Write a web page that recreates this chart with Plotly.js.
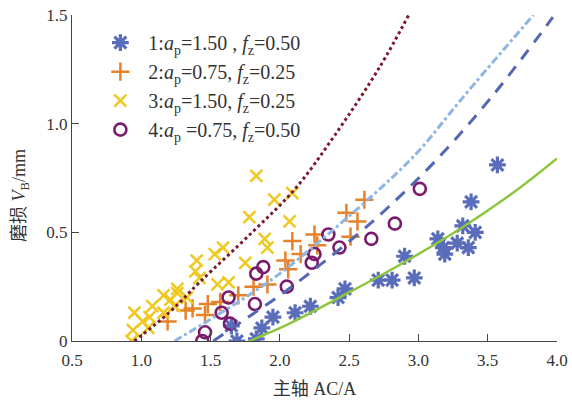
<!DOCTYPE html>
<html>
<head>
<meta charset="utf-8">
<script src="https://cdn.plot.ly/plotly-3.0.1.min.js"></script>
<style>html,body{margin:0;padding:0;background:#fff;}</style>
</head>
<body>
<div id="chart" style="width:572px;height:405px;"></div>
<script>
// ---- data ----
const legendNames = [
  '1:<i>a</i><sub>p</sub>=1.50 , <i>f</i><sub>z</sub>=0.50',
  '2:<i>a</i><sub>p</sub>=0.75, <i>f</i><sub>z</sub>=0.25',
  '3:<i>a</i><sub>p</sub>=1.50, <i>f</i><sub>z</sub>=0.25',
  '4:<i>a</i><sub>p</sub> =0.75, <i>f</i><sub>z</sub>=0.50'
];

const s1X = [1.69,1.65,1.83,1.87,1.95,2.11,2.22,2.42,2.47,2.71,2.81,2.90,2.97,3.14,3.18,3.19,3.28,3.36,3.32,3.41,3.38,3.57];
const s1Y = [0.00,0.07,0.01,0.06,0.11,0.13,0.16,0.20,0.24,0.28,0.28,0.39,0.29,0.47,0.43,0.40,0.45,0.43,0.53,0.50,0.64,0.81];

const s2X = [1.19,1.32,1.37,1.46,1.48,1.57,1.70,1.81,1.91,2.04,2.06,2.09,2.15,2.25,2.27,2.48,2.51,2.56,2.61];
const s2Y = [0.09,0.14,0.15,0.12,0.17,0.18,0.21,0.25,0.26,0.37,0.33,0.46,0.40,0.49,0.44,0.59,0.48,0.55,0.65];

const s3X = [0.93,0.94,1.01,0.95,1.06,1.05,1.08,1.16,1.16,1.21,1.24,1.26,1.33,1.26,1.39,1.40,1.42,1.53,1.59,1.55,1.63,1.75,1.78,1.83,1.89,1.91,1.96,2.09,2.07];
const s3Y = [0.00,0.05,0.09,0.13,0.11,0.06,0.16,0.13,0.21,0.19,0.16,0.22,0.20,0.24,0.32,0.37,0.29,0.40,0.43,0.26,0.27,0.36,0.57,0.76,0.47,0.43,0.65,0.68,0.55];

const s4X = [1.44,1.46,1.58,1.63,1.64,1.82,1.83,1.88,2.05,2.23,2.25,2.35,2.43,2.66,2.83,3.01];
const s4Y = [0.00,0.04,0.13,0.20,0.08,0.17,0.31,0.34,0.25,0.36,0.40,0.49,0.43,0.47,0.54,0.70];

// fitted curves
const dotX = [0.95,1.20,1.42,1.80,2.11,2.40,2.72,2.93];
const dotY = [0.00,0.13,0.27,0.50,0.70,0.95,1.26,1.50];

const ltX = [1.24,1.50,1.75,2.00,2.40,2.79,3.01,3.32,3.83];
const ltY = [0.00,0.10,0.20,0.31,0.52,0.74,0.88,1.12,1.50];

const dkX = [1.52,1.75,2.00,2.29,2.56,2.79,3.14,3.55,3.97];
const dkY = [0.00,0.10,0.21,0.35,0.49,0.62,0.84,1.14,1.49];

const grX = [1.78,2.07,2.43,2.85,3.31,3.70,4.00];
const grY = [0.00,0.08,0.20,0.345,0.52,0.69,0.84];

const xTickVals = [0.5,1.0,1.5,2.0,2.5,3.0,3.5,4.0];
const xTickText = ['0.5','1.0','1.5','2.0','2.5','3.0','3.5','4.0'];
const yTickVals = [0,0.5,1.0,1.5];
const yTickText = ['0','0.5','1.0','1.5'];

const xTitle = '主轴 AC/A';
const yTitle = '磨损 <i>V</i><sub>B</sub>/mm';

// ---- traces ----
const traces = [
  {x:s1X, y:s1Y, name:legendNames[0], type:'scatter', mode:'markers',
   marker:{symbol:'asterisk-open', size:14, color:'#5a6dba', line:{color:'#5a6dba', width:3.2}}},
  {x:s2X, y:s2Y, name:legendNames[1], type:'scatter', mode:'markers',
   marker:{symbol:'cross-thin-open', size:13, color:'#e5822a', line:{color:'#e5822a', width:2.5}}},
  {x:s3X, y:s3Y, name:legendNames[2], type:'scatter', mode:'markers',
   marker:{symbol:'x-thin-open', size:12, color:'#efc821', line:{color:'#efc821', width:2.5}}},
  {x:s4X, y:s4Y, name:legendNames[3], type:'scatter', mode:'markers',
   marker:{symbol:'circle-open', size:12, color:'#7b1b6c', line:{color:'#7b1b6c', width:2.6}}},
  {x:dotX, y:dotY, type:'scatter', mode:'lines', showlegend:false, hoverinfo:'skip',
   line:{color:'#7a1a2c', width:3, dash:'dot', shape:'spline'}},
  {x:ltX, y:ltY, type:'scatter', mode:'lines', showlegend:false, hoverinfo:'skip',
   line:{color:'#8fb5e6', width:3, dash:'8px,3px,3px,3px', shape:'spline'}},
  {x:dkX, y:dkY, type:'scatter', mode:'lines', showlegend:false, hoverinfo:'skip',
   line:{color:'#5567b3', width:3, dash:'12px,9px', shape:'spline'}},
  {x:grX, y:grY, type:'scatter', mode:'lines', showlegend:false, hoverinfo:'skip',
   line:{color:'#8cc63c', width:2.5, shape:'spline'}}
];

const serif = 'Liberation Serif, Times New Roman, Noto Sans CJK SC, serif';

const axisCommon = {
  showgrid:false, zeroline:false, showline:true, linecolor:'#444', linewidth:1,
  ticks:'inside', ticklen:7, tickwidth:1, tickcolor:'#444',
  tickfont:{family:serif, size:17, color:'#333'}
};

const layout = {
  width:572, height:405,
  margin:{l:72, r:15, t:15, b:64},
  paper_bgcolor:'#ffffff', plot_bgcolor:'#ffffff',
  font:{family:serif, size:17, color:'#333'},
  xaxis:Object.assign({}, axisCommon, {
    range:[0.5,4.0], tickmode:'array', tickvals:xTickVals, ticktext:xTickText,
    ticklabelstandoff:4,
    title:{text:xTitle, font:{family:serif, size:18, color:'#333'}, standoff:12}
  }),
  yaxis:Object.assign({}, axisCommon, {
    range:[0,1.5], tickmode:'array', tickvals:yTickVals, ticktext:yTickText,
    title:{text:''}
  }),
  annotations:[{
    text:yTitle, xref:'paper', yref:'paper', x:-0.105, y:0.445,
    xanchor:'center', yanchor:'middle', textangle:-90, showarrow:false,
    font:{family:serif, size:18, color:'#333'}
  }],
  legend:{x:0.042, y:0.975, xanchor:'left', yanchor:'top', bgcolor:'rgba(0,0,0,0)',
    font:{family:serif, size:20, color:'#333'}, tracegroupgap:0, itemwidth:46},
  showlegend:true
};

Plotly.newPlot('chart', traces, layout, {displayModeBar:false, staticPlot:true});
</script>
</body>
</html>
